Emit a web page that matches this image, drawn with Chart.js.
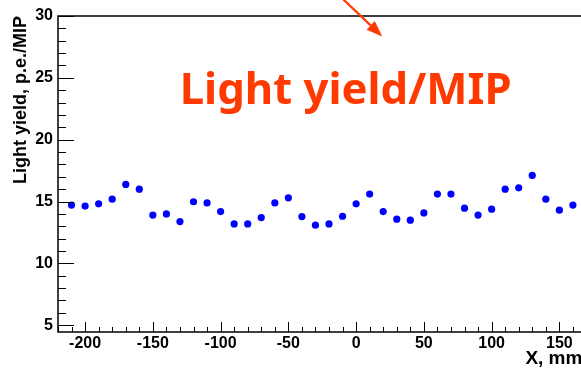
<!DOCTYPE html>
<html>
<head>
<meta charset="utf-8">
<script src="https://cdn.jsdelivr.net/npm/chart.js@4/dist/chart.umd.min.js"></script>
<style>
  html, body { margin: 0; padding: 0; background: #fff; overflow: hidden; width: 581px; height: 370px; }
  #wrap { width: 586px; height: 370px; position: relative; }
</style>
</head>
<body>
<div id="wrap"><canvas id="c" width="586" height="370"></canvas></div>
<script>
// Scan position along the strip, mm
const positionsMm = [-210, -200, -190, -180, -170, -160, -150, -140, -130, -120,
                     -110, -100, -90, -80, -70, -60, -50, -40, -30, -20,
                     -10, 0, 10, 20, 30, 40, 50, 60, 70, 80,
                     90, 100, 110, 120, 130, 140, 150, 160];
// Measured light yield, photoelectrons per MIP
const lightYield = [14.71, 14.63, 14.81, 15.19, 16.38, 16.00, 13.90, 14.00, 13.38, 14.98,
                    14.89, 14.19, 13.19, 13.19, 13.70, 14.89, 15.30, 13.78, 13.09, 13.19,
                    13.81, 14.81, 15.60, 14.19, 13.57, 13.49, 14.08, 15.60, 15.60, 14.46,
                    13.90, 14.38, 16.00, 16.11, 17.11, 15.19, 14.30, 14.71];
const xTickValues = [-200, -150, -100, -50, 0, 50, 100, 150];
const yTickValues = [5, 10, 15, 20, 25, 30];
const xAxisTitle = 'X, mm';
const yAxisTitle = 'Light yield, p.e./MIP';
const headline = 'Light yield/MIP';

const ORANGE = '#ff3a00';
const LABEL_FONT = '"Liberation Sans", Arial, sans-serif';

// ROOT-style frame: closed box with ticks pointing into the plot
const rootFrame = {
  id: 'rootFrame',
  afterDraw(chart) {
    const { ctx, chartArea: a, scales: { x, y } } = chart;
    ctx.save();
    ctx.strokeStyle = '#000';
    ctx.lineWidth = 1;
    ctx.beginPath();
    for (let v = -220; v <= x.max + 1e-6; v += 10) {
      const px = Math.round(x.getPixelForValue(v)) + 0.5;
      const len = (Math.round(v) % 50 === 0) ? 10 : 5;
      ctx.moveTo(px, a.bottom);
      ctx.lineTo(px, a.bottom - len);
    }
    for (let v = 5; v <= 30; v += 1) {
      const py = Math.round(y.getPixelForValue(v)) + 0.5;
      const len = (v % 5 === 0) ? 16 : 8;
      ctx.moveTo(a.left, py);
      ctx.lineTo(a.left + len, py);
    }
    ctx.stroke();
    ctx.lineWidth = 1.5;
    ctx.strokeRect(a.left, a.top, a.right - a.left, a.bottom - a.top);

    // headline
    ctx.fillStyle = ORANGE;
    ctx.textBaseline = 'alphabetic';
    ctx.textAlign = 'left';
    let size = 44;
    ctx.font = 'bold ' + size + 'px "Noto Sans", "Open Sans", sans-serif';
    size = size * 332 / ctx.measureText(headline).width;
    ctx.font = 'bold ' + size.toFixed(1) + 'px "Noto Sans", "Open Sans", sans-serif';
    ctx.fillText(headline, x.getPixelForValue(-130.2), y.getPixelForValue(22.9));

    // arrow pointing into the plot from above
    const x0 = x.getPixelForValue(-10), y0 = y.getPixelForValue(31.4);
    const x1 = x.getPixelForValue(19.3), y1 = y.getPixelForValue(28.35);
    const ang = Math.atan2(y1 - y0, x1 - x0);
    const headLen = 16, headHalf = 6;
    const bx = x1 - headLen * Math.cos(ang), by = y1 - headLen * Math.sin(ang);
    ctx.strokeStyle = ORANGE;
    ctx.lineWidth = 2.2;
    ctx.beginPath();
    ctx.moveTo(x0, y0);
    ctx.lineTo(bx, by);
    ctx.stroke();
    ctx.beginPath();
    ctx.moveTo(x1, y1);
    ctx.lineTo(bx + headHalf * Math.sin(ang), by - headHalf * Math.cos(ang));
    ctx.lineTo(bx - headHalf * Math.sin(ang), by + headHalf * Math.cos(ang));
    ctx.closePath();
    ctx.fill();
    ctx.restore();
  }
};

new Chart(document.getElementById('c'), {
  type: 'scatter',
  data: {
    datasets: [{
      data: positionsMm.map((p, i) => ({ x: p, y: lightYield[i] })),
      backgroundColor: '#0000ff',
      borderWidth: 0,
      pointRadius: 3.6,
      pointHoverRadius: 3.6
    }]
  },
  options: {
    responsive: false,
    animation: false,
    devicePixelRatio: 1,
    layout: { padding: { top: 16, left: 0, right: 0, bottom: 0 } },
    plugins: { legend: { display: false }, tooltip: { enabled: false } },
    scales: {
      x: {
        type: 'linear',
        min: -220,
        max: 167,
        afterBuildTicks: s => { s.ticks = xTickValues.map(v => ({ value: v })); },
        afterFit: s => { s.height = 38; s.paddingLeft = 0; s.paddingRight = 0; },
        grid: { display: false, drawTicks: false },
        border: { display: false },
        ticks: {
          color: '#000',
          padding: 2,
          maxRotation: 0,
          font: { family: LABEL_FONT, size: 16, weight: 'bold' }
        },
        title: {
          display: true,
          text: xAxisTitle,
          align: 'end',
          color: '#000',
          padding: { top: 0, bottom: 0 },
          font: { family: LABEL_FONT, size: 19, weight: 'bold' }
        }
      },
      y: {
        type: 'linear',
        min: 4.45,
        max: 30,
        afterBuildTicks: s => { s.ticks = yTickValues.map(v => ({ value: v })); },
        afterFit: s => { s.width = 58; s.paddingTop = 0; s.paddingBottom = 0; },
        grid: { display: false, drawTicks: false },
        border: { display: false },
        ticks: {
          color: '#000',
          padding: 5,
          font: { family: LABEL_FONT, size: 16, weight: 'bold' }
        },
        title: {
          display: true,
          text: yAxisTitle,
          align: 'end',
          color: '#000',
          padding: { top: 10, bottom: 0 },
          font: { family: LABEL_FONT, size: 18, weight: 'bold' }
        }
      }
    }
  },
  plugins: [rootFrame]
});
</script>
</body>
</html>
